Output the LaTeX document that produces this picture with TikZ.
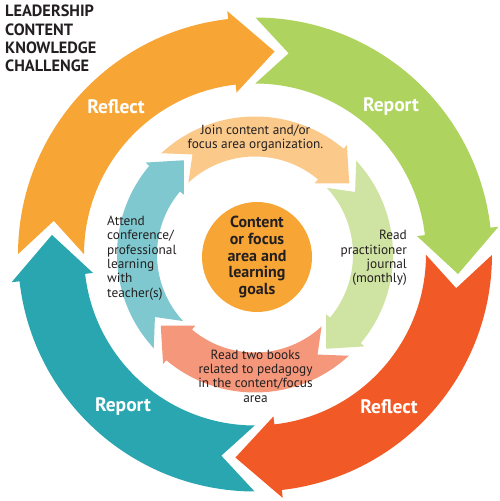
\documentclass[tikz,border=0pt]{standalone}
\usepackage{fontspec}
\setmainfont{PT Sans}
\definecolor{reflectorange}{HTML}{F7A535}
\definecolor{reportgreen}{HTML}{AED35F}
\definecolor{reflectred}{HTML}{F15A26}
\definecolor{reportteal}{HTML}{2AA6B0}
\definecolor{joinorange}{HTML}{FBC98A}
\definecolor{readgreen}{HTML}{CFE3A2}
\definecolor{booksalmon}{HTML}{F5977A}
\definecolor{attendteal}{HTML}{7FC8CF}
\definecolor{titlegray}{HTML}{231F20}
\tikzset{
  phase/.style={text=white, font=\bfseries\fontsize{19.5}{21}\selectfont, inner sep=0pt},
  activity/.style={text=titlegray, font=\fontsize{13.3}{14.3}\selectfont, inner sep=0pt},
}
\begin{document}
\begin{tikzpicture}[x=1pt,y=1pt]
  \useasboundingbox (0,0) rectangle (500,501);
  \coordinate (c) at (255,246.5);
  % outer cycle
  \begin{scope}[shift={(c)}]
    \foreach \col/\angtip in {reflectorange/84.5, reportgreen/-5.5, reflectred/-95.5, reportteal/174.5}{
      \pgfmathsetmacro{\tailang}{\angtip+95.4}
      \pgfmathsetmacro{\notchang}{\angtip+86}
      \pgfmathsetmacro{\baseang}{\angtip+12}
      \fill[\col] (\tailang:237) arc[start angle=\tailang, end angle=\baseang, radius=237pt]
        -- (\baseang:245) -- (\angtip:204) -- (\baseang:163) -- (\baseang:171)
        arc[start angle=\baseang, end angle=\tailang, radius=171pt] -- (\notchang:204) -- cycle;
    }
    % inner cycle
    \foreach \col/\angtip in {joinorange/37, readgreen/-53, booksalmon/-143, attendteal/127}{
      \pgfmathsetmacro{\tailang}{\angtip+95.8}
      \pgfmathsetmacro{\notchang}{\angtip+85}
      \pgfmathsetmacro{\baseang}{\angtip+13}
      \fill[\col] (\tailang:138) arc[start angle=\tailang, end angle=\baseang, radius=138pt]
        -- (\baseang:143) -- (\angtip:118) -- (\baseang:93) -- (\baseang:98)
        arc[start angle=\baseang, end angle=\tailang, radius=98pt] -- (\notchang:118) -- cycle;
    }
  \end{scope}
  % centre
  \node[circle, fill=reflectorange, minimum size=110pt, inner sep=0pt, align=center,
    text=titlegray, font=\bfseries\fontsize{16}{16.7}\selectfont] (goals) at (257,244)
    {Content\\or focus\\area and\\learning\\goals};
  % title
  \node[anchor=north west, align=left, inner sep=0pt, text=titlegray,
    font=\bfseries\fontsize{16.3}{18.3}\selectfont] (title) at (5,496)
    {LEADERSHIP\\CONTENT\\KNOWLEDGE\\CHALLENGE};
  % phases
  \node[phase] (reflecttop) at (116,394) {Reflect};
  \node[phase] (reporttop) at (391,394) {Report};
  \node[phase] (reflectbottom) at (389,94) {Reflect};
  \node[phase] (reportbottom) at (123,94) {Report};
  % activities
  \node[activity, align=center] (join) at (255.5,363) {Join content and/or\\focus area organization.};
  \node[activity, align=left, anchor=west] (attend) at (107,243) {Attend\\conference/\\professional\\learning\\with\\teacher(s)};
  \node[activity, align=right, anchor=east] (journal) at (407,243) {Read\\practitioner\\journal\\(monthly)};
  \node[activity, align=center] (books) at (255.5,125) {Read two books\\related to pedagogy\\in the content/focus\\area};
\end{tikzpicture}
\end{document}
